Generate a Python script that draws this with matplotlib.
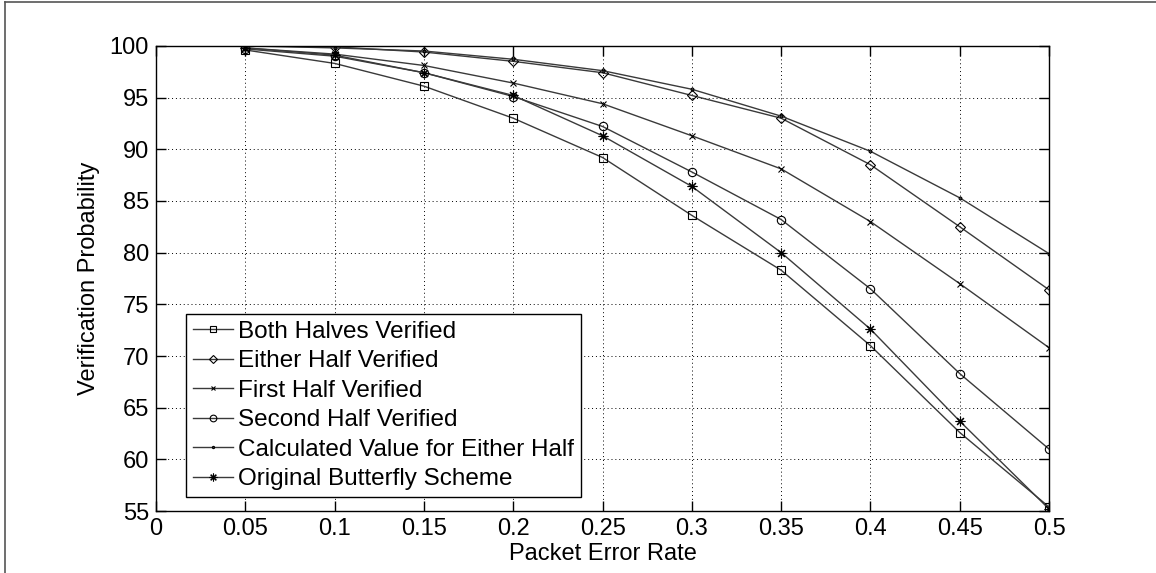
import numpy as np
import matplotlib.pyplot as plt
from matplotlib.lines import Line2D

plt.rcParams['font.family'] = ['Liberation Sans', 'DejaVu Sans']

per = [0.05, 0.1, 0.15, 0.2, 0.25, 0.3, 0.35, 0.4, 0.45, 0.5]

both_halves = [99.6, 98.3, 96.1, 93.0, 89.2, 83.6, 78.3, 71.0, 62.6, 55.4]
either_half = [100.0, 99.9, 99.4, 98.5, 97.4, 95.2, 93.0, 88.5, 82.5, 76.4]
first_half = [99.8, 99.2, 98.1, 96.4, 94.4, 91.3, 88.1, 83.0, 77.0, 70.8]
second_half = [99.7, 99.0, 97.4, 95.1, 92.2, 87.8, 83.2, 76.5, 68.3, 61.0]
calculated = [100.0, 99.8, 99.5, 98.7, 97.6, 95.8, 93.2, 89.8, 85.3, 79.9]
butterfly = [99.8, 99.1, 97.4, 95.2, 91.3, 86.4, 80.0, 72.6, 63.7, 55.2]

labels = ["Both Halves Verified", "Either Half Verified", "First Half Verified",
          "Second Half Verified", "Calculated Value for Either Half",
          "Original Butterfly Scheme"]

fig = plt.figure(figsize=(11.56, 5.73), dpi=100)
ax = fig.add_axes([0.135, 0.108, 0.7725, 0.812])

line_col = '#3a3a3a'
series = [
    (both_halves, 's', 6),
    (either_half, 'D', 5),
    (first_half, 'x', 4),
    (second_half, 'o', 6),
    (calculated, '.', 4),
    (butterfly, (8, 2, 0), 7),
]
for (vals, mk, ms), lab in zip(series, labels):
    ax.plot(per, vals, color=line_col, lw=1.0, marker=mk, markersize=ms,
            markerfacecolor='none', markeredgecolor='black', markeredgewidth=0.8,
            label=lab)

ax.set_xlim(0, 0.5)
ax.set_ylim(55, 100)
ax.set_xticks(np.arange(0, 0.51, 0.05))
ax.set_xticklabels(['0', '0.05', '0.1', '0.15', '0.2', '0.25', '0.3', '0.35', '0.4', '0.45', '0.5'])
ax.set_yticks(np.arange(55, 101, 5))
ax.tick_params(direction='in', length=7, width=1, labelsize=17, top=True, right=True, pad=5)
ax.grid(True, linestyle=(0, (1, 3)), color='black', linewidth=0.7)
for s in ax.spines.values():
    s.set_linewidth(1.0)

ax.set_xlabel("Packet Error Rate", fontsize=17, labelpad=2)
ax.set_ylabel("Verification Probability", fontsize=17, labelpad=7)

leg = ax.legend(loc='lower left', bbox_to_anchor=(0.0336, 0.03), fontsize=17.5,
                frameon=True, fancybox=False, edgecolor='black', framealpha=1,
                handlelength=1.65, handletextpad=0.2, labelspacing=0.31,
                borderpad=0.28, borderaxespad=0, markerscale=0.8)
leg.get_frame().set_linewidth(1.0)

# outer frame of the screenshot
fig.add_artist(Line2D([0.004, 0.004], [0, 0.997], transform=fig.transFigure, color='#555555', lw=1.2))
fig.add_artist(Line2D([0.004, 1], [0.997, 0.997], transform=fig.transFigure, color='#555555', lw=1.2))

fig.savefig('out.png', dpi=100)
